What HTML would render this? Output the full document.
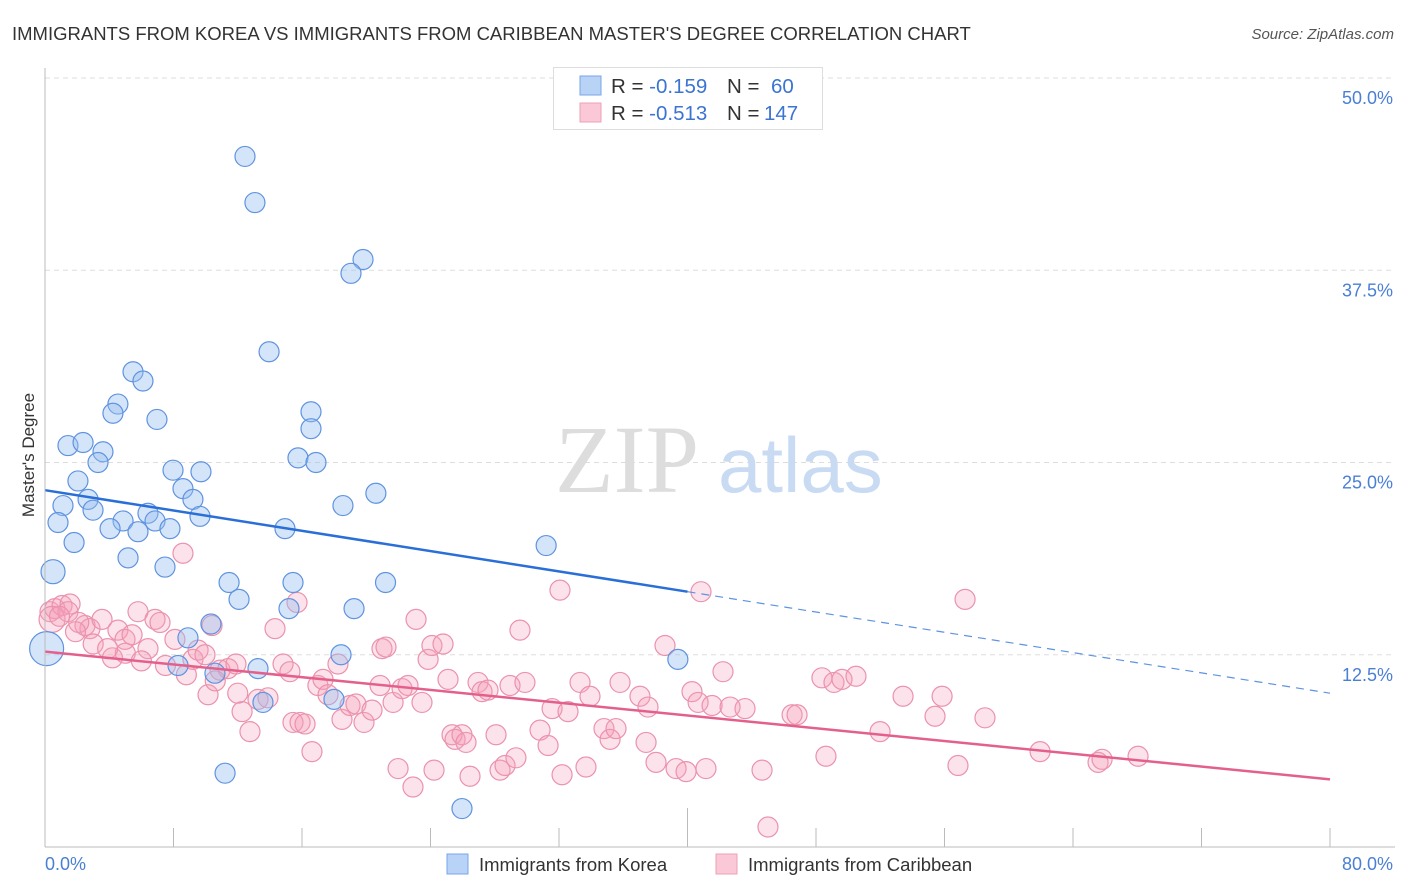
<!DOCTYPE html>
<html><head><meta charset="utf-8"><style>
body{margin:0;background:#fff;font-family:"Liberation Sans",sans-serif}
svg{display:block}
</style></head><body>
<svg id="chart" width="1406" height="892" xmlns="http://www.w3.org/2000/svg">
<text x="12" y="40" font-size="18.5" fill="#333">IMMIGRANTS FROM KOREA VS IMMIGRANTS FROM CARIBBEAN MASTER'S DEGREE CORRELATION CHART</text>
<text x="1394" y="39" font-size="15" fill="#555" font-style="italic" text-anchor="end">Source: ZipAtlas.com</text>
<g id="grid"></g>
<text x="555" y="492" font-size="96" fill="#ddd" font-family="Liberation Serif,serif">ZIP</text>
<text x="718" y="492" font-size="78" fill="#c9dbf3">atlas</text>
<g id="marks"></g>
<line x1="45" y1="68" x2="45" y2="847" stroke="#bbb"/>
<line x1="45" y1="847" x2="1395" y2="847" stroke="#bbb"/>
<text x="45" y="870" font-size="18" fill="#4a7fd4">0.0%</text>
<text x="1393" y="870" font-size="18" fill="#4a7fd4" text-anchor="end">80.0%</text>
<text transform="translate(34,455) rotate(-90)" font-size="17" fill="#333" text-anchor="middle">Master's Degree</text>
<g>
<rect x="553.5" y="67.5" width="269" height="62" fill="#fff" stroke="#ddd"/>
<rect x="580" y="76" width="21" height="19" fill="#b8d3f5" stroke="#7aa6e6"/>
<rect x="580" y="103" width="21" height="19" fill="#fac8d6" stroke="#eea0b6"/>
<text x="611" y="93" font-size="20.5" fill="#333">R = <tspan fill="#3b74d1">-0.159</tspan><tspan x="727">N = </tspan><tspan x="771" fill="#3b74d1">60</tspan></text>
<text x="611" y="120" font-size="20.5" fill="#333">R = <tspan fill="#3b74d1">-0.513</tspan><tspan x="727">N = </tspan><tspan x="764" fill="#3b74d1">147</tspan></text>
</g>
<g>
<rect x="447" y="854" width="21" height="20" fill="#b8d3f5" stroke="#7aa6e6"/>
<text x="479" y="871" font-size="18.5" fill="#333">Immigrants from Korea</text>
<rect x="716" y="854" width="21" height="20" fill="#fac8d6" stroke="#eea0b6"/>
<text x="748" y="871" font-size="18.5" fill="#333">Immigrants from Caribbean</text>
</g>
</svg>
<script>
const yTicks=[12.5,25.0,37.5,50.0];
const yTickLabels=["12.5%","25.0%","37.5%","50.0%"];
const xTicks=[0,8,16,24,32,40,48,56,64,72,80];
const koreaX=[12.45,13.07,19.8,19.05,13.95,5.48,6.10,4.54,4.23,6.97,16.56,16.56,1.43,2.37,3.61,3.30,15.75,16.87,7.97,9.71,2.05,8.59,9.21,2.68,1.12,2.99,20.6,18.55,6.41,4.86,6.85,0.81,9.65,4.05,5.79,7.78,14.94,1.81,5.17,31.2,7.47,0.5,11.46,15.44,21.2,12.08,15.19,19.24,10.33,8.90,18.43,8.28,10.58,13.26,39.4,13.57,17.99,11.21,25.96,0.1];
const koreaY=[44.9,41.9,38.2,37.3,32.2,30.9,30.3,28.8,28.2,27.8,28.3,27.2,26.1,26.3,25.7,25.0,25.3,25.0,24.5,24.4,23.8,23.3,22.6,22.6,22.2,21.9,23.0,22.2,21.7,21.2,21.2,21.1,21.5,20.7,20.5,20.7,20.7,19.8,18.8,19.6,18.2,17.9,17.2,17.2,17.2,16.1,15.5,15.5,14.5,13.6,12.5,11.8,11.3,11.6,12.2,9.4,9.6,4.8,2.5,12.9];
const koreaBig=[41,59];
const caribX=[0.31,0.62,1.06,1.56,0.44,1.43,2.49,2.80,3.55,4.54,4.98,5.42,5.79,6.41,6.85,7.16,8.09,8.59,9.21,9.53,9.96,10.15,10.40,10.90,11.39,11.89,12.27,12.76,13.26,13.88,14.32,14.82,15.25,15.69,15.44,15.88,16.19,16.62,16.99,17.31,17.62,18.24,18.49,18.99,19.36,19.86,20.36,20.86,20.98,21.23,21.67,21.98,22.23,22.60,22.91,23.10,23.47,23.85,24.09,24.78,24.22,25.09,25.34,25.53,25.96,26.21,26.46,26.96,27.21,27.58,28.08,28.33,28.64,28.95,29.32,29.57,29.88,30.82,31.32,31.57,32.06,32.19,32.56,33.31,33.68,33.93,34.80,35.18,35.55,35.80,37.04,37.42,37.54,38.04,38.60,39.29,39.91,40.28,40.66,40.84,41.15,41.53,42.21,42.65,43.58,44.64,45.01,46.51,46.82,48.62,48.37,49.12,49.62,50.49,51.99,53.42,55.41,55.85,56.84,57.28,58.52,61.95,65.56,65.81,68.05,0.9,2.1,3.0,4.2,5.0,6.0,7.5,8.8,10.6,12.0,3.9,1.9];
const caribY=[15.3,15.5,15.7,15.8,14.8,15.3,14.4,14.2,14.8,14.1,13.5,13.8,15.3,12.9,14.8,14.6,13.5,19.1,12.2,12.8,12.5,9.9,14.4,11.5,11.6,11.9,8.8,7.5,9.6,9.7,14.2,11.9,11.4,15.9,8.1,8.1,8.0,6.2,10.5,10.9,9.9,11.9,8.3,9.2,9.3,8.1,8.9,10.5,12.9,13.0,9.4,5.1,10.3,10.5,3.9,14.8,9.4,12.2,13.1,13.2,5.0,10.9,7.3,7.0,7.3,6.8,4.6,10.7,10.1,10.2,7.3,5.0,5.3,10.5,5.8,14.1,10.7,7.6,6.6,9.0,16.7,4.7,8.8,10.7,5.2,9.8,7.7,7.0,7.7,10.7,9.8,6.8,9.1,5.5,13.1,5.1,4.9,10.1,9.4,16.6,5.1,9.2,11.4,9.1,9.0,5.0,1.3,8.6,8.6,5.9,11.0,10.7,10.9,11.1,7.5,9.8,8.5,9.8,5.3,16.1,8.4,6.2,5.5,5.7,5.9,15.0,14.6,13.2,12.3,12.6,12.1,11.8,11.2,10.8,10.0,12.9,14.0];
const koreaTrend=[23.2,16.6,10.0];
const caribTrend=[12.7,4.4];
const trendX=[0,40,80];

const NS="http://www.w3.org/2000/svg";
const sx=v=>45+v*(1330-45)/80;
const sy=v=>847-v*(847-78)/50;
function mk(tag,attrs,parent){const e=document.createElementNS(NS,tag);for(const k in attrs)e.setAttribute(k,attrs[k]);parent.appendChild(e);return e;}
const grid=document.getElementById('grid');
yTicks.forEach((t,i)=>{
  const l=mk('line',{x1:45,x2:1395,y1:sy(t),y2:sy(t),stroke:'#ddd','stroke-dasharray':'5,4'},grid);
  
  
  const tx=mk('text',{x:1393,y:sy(t)+26,'font-size':18,fill:'#4a7fd4','text-anchor':'end'},grid);
  tx.textContent=yTickLabels[i];
  
  
});
xTicks.forEach(t=>{
  const l=mk('line',{x1:sx(t),x2:sx(t),y1:t===40?808:828,y2:847,stroke:'#bbb'},grid);
  
  
});
const marks=document.getElementById('marks');
caribX.forEach((x,i)=>{
  const c=mk('circle',{cx:sx(x),cy:sy(caribY[i]),r:i===4?13:10,fill:'rgba(246,160,186,0.3)',stroke:'#eb92ad','stroke-width':1.2},marks);
  
  
});
koreaX.forEach((x,i)=>{
  const c=mk('circle',{cx:sx(x),cy:sy(koreaY[i]),r:koreaBig.includes(i)?(i===59?17:12):10,fill:'rgba(150,190,240,0.4)',stroke:'#5f93e0','stroke-width':1.2},marks);
  
  
});
const bl=mk('line',{x1:sx(trendX[0]),y1:sy(koreaTrend[0]),x2:sx(trendX[1]),y2:sy(koreaTrend[1]),stroke:'#2a6ed8','stroke-width':2.5},marks);


const bd=mk('line',{x1:sx(trendX[1]),y1:sy(koreaTrend[1]),x2:sx(trendX[2]),y2:sy(koreaTrend[2]),stroke:'#5f93e0','stroke-width':1.2,'stroke-dasharray':'8,6'},marks);


const pl=mk('line',{x1:sx(trendX[0]),y1:sy(caribTrend[0]),x2:sx(trendX[2]),y2:sy(caribTrend[1]),stroke:'#e4608c','stroke-width':2.5},marks);


</script>
</body></html>
